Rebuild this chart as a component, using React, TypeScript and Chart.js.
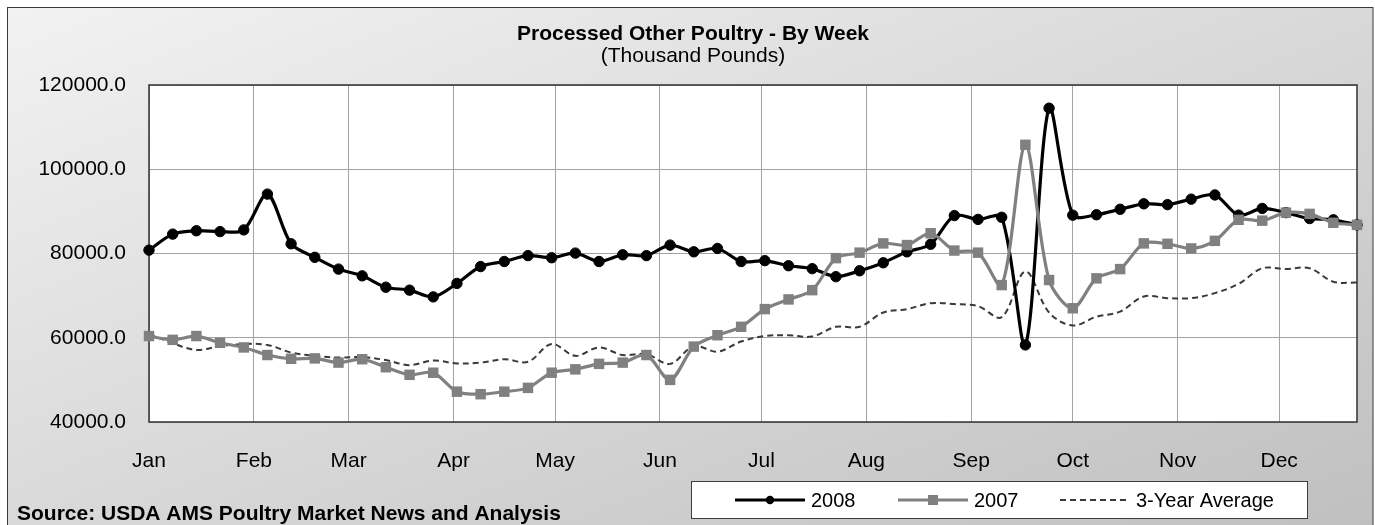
import React, { useEffect, useRef } from "react";
import { Chart, registerables } from "chart.js";

Chart.register(...registerables);

// ---------- data ----------
const TITLE = "Processed Other Poultry - By Week";
const SUBTITLE = "(Thousand Pounds)";
const SOURCE = "Source: USDA AMS Poultry Market News and Analysis";

// day-of-year position of each weekly observation
const WEEK_DAY = [
  0, 7, 14, 21, 28, 35, 42, 49, 56, 63, 70, 77, 84, 91, 98, 105, 112, 119, 126,
  133, 140, 147, 154, 161, 168, 175, 182, 189, 196, 203, 210, 217, 224, 231, 238,
  245, 252, 259, 266, 273, 280, 287, 294, 301, 308, 315, 322, 329, 336, 343, 350,
  357,
];

const SERIES_2008 = [
  80800, 84600, 85400, 85200, 85600, 94100, 82300, 79100, 76300, 74700, 72000,
  71300, 69700, 72900, 76900, 78100, 79500, 79000, 80100, 78100, 79700, 79500,
  82000, 80400, 81200, 78100, 78300, 77100, 76400, 74500, 75900, 77800, 80400,
  82200, 89000, 88100, 88600, 58300, 114500, 89100, 89200, 90500, 91800, 91600,
  92900, 93900, 89100, 90700, 89700, 88300, 88000, 86800,
];

const SERIES_2007 = [
  60400, 59500, 60400, 58800, 57700, 55900, 55000, 55100, 54100, 54900, 53000,
  51200, 51700, 47200, 46600, 47200, 48100, 51700, 52500, 53800, 54100, 55900,
  50000, 57900, 60600, 62600, 66800, 69100, 71300, 78900, 80200, 82400, 82000,
  84800, 80700, 80200, 72500, 105800, 73700, 67000, 74100, 76300, 82400, 82300,
  81200, 83000, 88000, 87800, 89700, 89400, 87300, 86800,
];

const SERIES_AVG = [
  60900, 58700, 57100, 58000, 58500, 58300, 56500, 55700, 55300, 55400, 54700,
  53500, 54600, 53900, 54100, 54900, 54300, 58500, 55700, 57700, 55900, 56100,
  53800, 58000, 56700, 59100, 60400, 60600, 60300, 62600, 62600, 66000, 66800,
  68200, 68000, 67500, 64900, 75700, 66000, 62900, 65000, 66200, 69800, 69400,
  69400, 70600, 72800, 76500, 76300, 76500, 73300, 73100,
];

const MONTH_START_DAY = [0, 31, 59, 90, 120, 151, 181, 212, 243, 273, 304, 334];
const MONTH_LABELS = [
  "Jan", "Feb", "Mar", "Apr", "May", "Jun",
  "Jul", "Aug", "Sep", "Oct", "Nov", "Dec",
];
const Y_MIN = 40000;
const Y_MAX = 120000;
const Y_STEP = 20000;

const LABEL_2008 = "2008";
const LABEL_2007 = "2007";
const LABEL_AVG = "3-Year Average";

// ---------- styling ----------
const FONT = '"Liberation Sans", Arial, Helvetica, sans-serif';
const W = 1375;
const H = 525;

const toPoints = (vals: number[]) =>
  vals.map((v, i) => ({ x: WEEK_DAY[i], y: v }));

const decorPlugin = {
  id: "decor",
  beforeDraw(chart: any) {
    const ctx = chart.ctx as CanvasRenderingContext2D;
    ctx.save();
    // outer frame with diagonal gradient
    const bx = 7.5, by = 7.5, bw = 1365.5, bh = 530;
    const cx = bx + bw / 2, cy = by + bh / 2;
    const k = (bw * bh) / (bh * bh + bw * bw);
    const g = ctx.createLinearGradient(cx - k * bh, cy - k * bw, cx + k * bh, cy + k * bw);
    g.addColorStop(0, "#f2f2f2");
    g.addColorStop(1, "#bfbfbf");
    ctx.fillStyle = g;
    ctx.fillRect(bx, by, bw, bh);
    ctx.strokeStyle = "#3a3a3a";
    ctx.lineWidth = 1;
    ctx.strokeRect(bx, by, bw, bh);
    // plot area
    const a = chart.chartArea;
    ctx.fillStyle = "#ffffff";
    ctx.fillRect(a.left, a.top, a.right - a.left, a.bottom - a.top);
    ctx.restore();
  },
  beforeDatasetsDraw(chart: any) {
    const ctx = chart.ctx as CanvasRenderingContext2D;
    const a = chart.chartArea;
    ctx.save();
    ctx.strokeStyle = "#3c3c3c";
    ctx.lineWidth = 1.6;
    ctx.strokeRect(a.left, a.top, a.right - a.left, a.bottom - a.top);
    ctx.restore();
  },
  afterDraw(chart: any) {
    const ctx = chart.ctx as CanvasRenderingContext2D;
    ctx.save();
    ctx.fillStyle = "#000";
    ctx.textBaseline = "alphabetic";
    ctx.textAlign = "center";
    ctx.font = `bold 21px ${FONT}`;
    ctx.fillText(TITLE, 693, 39.5);
    ctx.font = `21px ${FONT}`;
    ctx.fillText(SUBTITLE, 693, 62);
    ctx.textAlign = "left";
    ctx.font = `bold 21px ${FONT}`;
    ctx.fillText(SOURCE, 17, 520);

    // legend box
    const lx = 691.5, ly = 481.5, lw = 616, lh = 37;
    ctx.fillStyle = "#ffffff";
    ctx.fillRect(lx, ly, lw, lh);
    ctx.strokeStyle = "#3c3c3c";
    ctx.lineWidth = 1;
    ctx.strokeRect(lx, ly, lw, lh);

    const itemX = [735, 898, 1060];
    const cyL = 500;
    chart.data.datasets.forEach((ds: any, i: number) => {
      const x0 = itemX[i];
      const x1 = x0 + 70;
      ctx.save();
      ctx.strokeStyle = ds.borderColor;
      ctx.lineWidth = ds.borderWidth;
      ctx.setLineDash(ds.borderDash || []);
      ctx.beginPath();
      ctx.moveTo(x0, cyL);
      ctx.lineTo(x1, cyL);
      ctx.stroke();
      ctx.setLineDash([]);
      const mx = (x0 + x1) / 2;
      if (ds.pointRadius > 0) {
        ctx.fillStyle = ds.pointBackgroundColor;
        if (ds.pointStyle === "rect") {
          ctx.fillRect(mx - 5, cyL - 5, 10, 10);
        } else {
          ctx.beginPath();
          ctx.arc(mx, cyL, 4.2, 0, Math.PI * 2);
          ctx.fill();
        }
      }
      ctx.restore();
      ctx.fillStyle = "#000";
      ctx.font = `20px ${FONT}`;
      ctx.textAlign = "left";
      ctx.textBaseline = "middle";
      ctx.fillText(ds.label, x1 + 6, cyL + 1);
    });
    ctx.restore();
  },
};

export default function App() {
  const ref = useRef<HTMLCanvasElement | null>(null);

  useEffect(() => {
    if (!ref.current) return;
    const chart = new Chart(ref.current, {
      type: "line",
      data: {
        datasets: [
          {
            label: LABEL_2008,
            data: toPoints(SERIES_2008),
            borderColor: "#000000",
            backgroundColor: "#000000",
            pointBackgroundColor: "#000000",
            pointBorderColor: "#000000",
            borderWidth: 3.2,
            pointStyle: "circle",
            pointRadius: 5.2,
            pointBorderWidth: 1,
            tension: 0.3,
            order: 1,
            clip: false,
          } as any,
          {
            label: LABEL_2007,
            data: toPoints(SERIES_2007),
            borderColor: "#808080",
            backgroundColor: "#808080",
            pointBackgroundColor: "#808080",
            pointBorderColor: "#808080",
            borderWidth: 3.2,
            pointStyle: "rect",
            pointRadius: 7.4,
            pointBorderWidth: 0,
            tension: 0.3,
            order: 0,
            clip: false,
          } as any,
          {
            label: LABEL_AVG,
            data: toPoints(SERIES_AVG),
            borderColor: "#3a3a3a",
            backgroundColor: "#3a3a3a",
            borderWidth: 2,
            borderDash: [6, 4],
            pointRadius: 0,
            tension: 0.35,
            order: 2,
            clip: false,
          } as any,
        ],
      },
      options: {
        responsive: false,
        animation: false,
        devicePixelRatio: 1,
        layout: { padding: { left: 0, top: 85, right: 18, bottom: 0 } },
        plugins: {
          legend: { display: false },
          title: { display: false },
          tooltip: { enabled: false },
        },
        events: [],
        scales: {
          x: {
            type: "linear",
            min: 0,
            max: WEEK_DAY[WEEK_DAY.length - 1],
            afterBuildTicks: (scale: any) => {
              scale.ticks = MONTH_START_DAY.map((v) => ({ value: v }));
            },
            afterFit: (scale: any) => {
              scale.height = H - 422;
            },
            ticks: {
              autoSkip: false,
              maxRotation: 0,
              minRotation: 0,
              padding: 27,
              color: "#000",
              font: { family: FONT, size: 21 },
              callback: (_v: any, i: number) => MONTH_LABELS[i],
            },
            grid: { color: "#a3a3a3", lineWidth: 1, drawTicks: false },
            border: { display: false },
          },
          y: {
            type: "linear",
            min: Y_MIN,
            max: Y_MAX,
            afterFit: (scale: any) => {
              scale.width = 149;
            },
            ticks: {
              stepSize: Y_STEP,
              padding: 23,
              color: "#000",
              font: { family: FONT, size: 21 },
              callback: (v: any) => Number(v).toFixed(1),
            },
            grid: { color: "#a3a3a3", lineWidth: 1, drawTicks: false },
            border: { display: false },
          },
        },
      } as any,
      plugins: [decorPlugin],
    });
    return () => chart.destroy();
  }, []);

  return (
    <div style={{ position: "absolute", left: 0, top: 0, width: W, height: H }}>
      <canvas ref={ref} width={W} height={H} style={{ display: "block" }} />
    </div>
  );
}
